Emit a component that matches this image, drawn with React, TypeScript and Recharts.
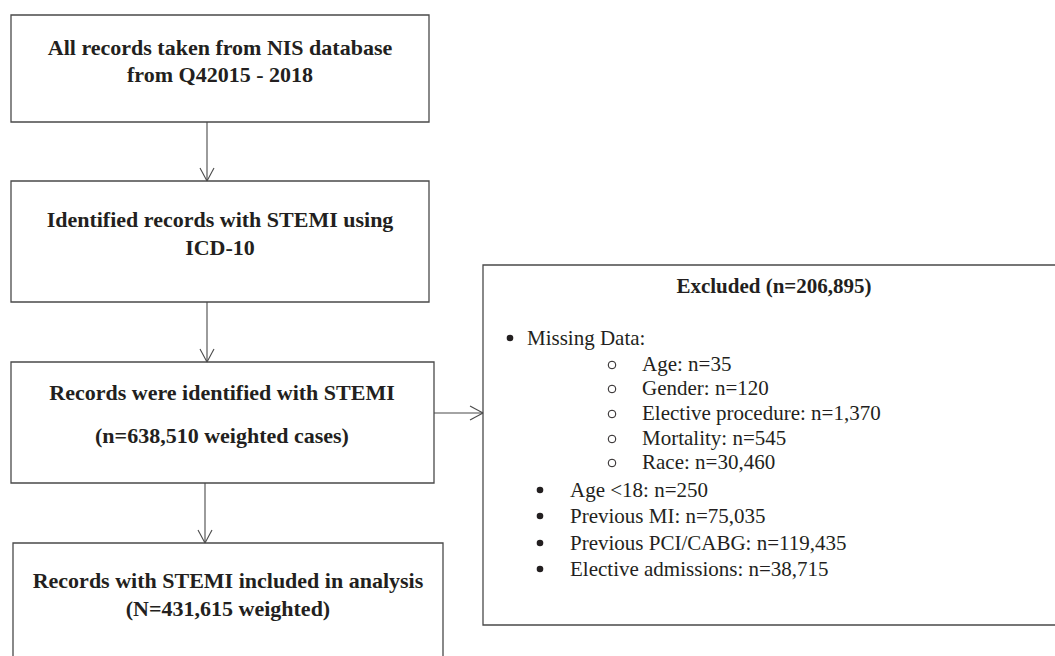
import React from 'react';
import { ScatterChart, XAxis, YAxis, ReferenceArea, ReferenceLine, Scatter } from 'recharts';

// ---------- content ----------
const stepLines: string[][] = [
  ['All records taken from NIS database', 'from Q42015 - 2018'],
  ['Identified records with STEMI using', 'ICD-10'],
  ['Records were identified with STEMI', '(n=638,510 weighted cases)'],
  ['Records with STEMI included in analysis', '(N=431,615 weighted)'],
];
const excludedTitle = 'Excluded (n=206,895)';
const missingHeader = 'Missing Data:';
const missingItems = [
  'Age: n=35',
  'Gender: n=120',
  'Elective procedure: n=1,370',
  'Mortality: n=545',
  'Race: n=30,460',
];
const otherExclusions = [
  'Age <18: n=250',
  'Previous MI: n=75,035',
  'Previous PCI/CABG: n=119,435',
  'Elective admissions: n=38,715',
];

// ---------- layout (diagram coordinates) ----------
const W = 1055;
const H = 656;
const stepBoxes = [
  { x1: 11, x2: 429, y1: 15, y2: 122 },
  { x1: 11, x2: 429, y1: 181, y2: 302 },
  { x1: 11, x2: 434, y1: 362, y2: 483 },
  { x1: 13, x2: 443, y1: 543, y2: 700 },
];
const stepTextCx = [220, 220, 222, 228];
const stepBaselines = [
  [55, 82],
  [227, 255],
  [400, 443],
  [588, 616],
];
const excludedBox = { x1: 483, x2: 1070, y1: 265, y2: 625 };
const titlePos = { x: 774, y: 293 };
const headerPos = { bullet: 510, text: 527, y: 345 };
const subPos = { bullet: 612, text: 642, ys: [371, 395, 420, 445, 469] };
const otherPos = { bullet: 540, text: 570, ys: [497, 523, 550, 576] };
const arrows = [
  { from: { x: 207, y: 122 }, to: { x: 207, y: 181 } },
  { from: { x: 207, y: 302 }, to: { x: 207, y: 362 } },
  { from: { x: 205, y: 483 }, to: { x: 205, y: 543 } },
  { from: { x: 434, y: 413 }, to: { x: 483, y: 413 } },
];

const FONT = "'Liberation Serif', Tinos, 'Times New Roman', 'Nimbus Roman', 'Nimbus Roman No9 L', 'DejaVu Serif', serif";
const INK = '#231f20';
const LINE = '#4a4a4a';

type Pt = { x: number; y: number; text: string; bold?: boolean; anchor?: string; size?: number; bullet?: 'dot' | 'ring'; bx?: number };

const textPoints: Pt[] = [];
stepLines.forEach((lines, i) => {
  lines.forEach((t, j) => {
    textPoints.push({ x: stepTextCx[i], y: stepBaselines[i][j], text: t, bold: true, anchor: 'middle', size: 22 });
  });
});
textPoints.push({ x: titlePos.x, y: titlePos.y, text: excludedTitle, bold: true, anchor: 'middle', size: 21 });
textPoints.push({ x: headerPos.text, y: headerPos.y, text: missingHeader, anchor: 'start', size: 21, bullet: 'dot', bx: headerPos.bullet - headerPos.text });
missingItems.forEach((t, i) => {
  textPoints.push({ x: subPos.text, y: subPos.ys[i], text: t, anchor: 'start', size: 21, bullet: 'ring', bx: subPos.bullet - subPos.text });
});
otherExclusions.forEach((t, i) => {
  textPoints.push({ x: otherPos.text, y: otherPos.ys[i], text: t, anchor: 'start', size: 21, bullet: 'dot', bx: otherPos.bullet - otherPos.text });
});

const TextShape = (props: any) => {
  const p: Pt = props.payload || props;
  const { cx, cy } = props;
  if (cx == null || cy == null) return null;
  return (
    <g>
      {p.bullet === 'dot' && <circle cx={cx + (p.bx || 0)} cy={cy - 7} r={3.3} fill={INK} />}
      {p.bullet === 'ring' && (
        <circle cx={cx + (p.bx || 0)} cy={cy - 6} r={3.8} fill="none" stroke={INK} strokeWidth={1} />
      )}
      <text
        x={cx}
        y={cy}
        textAnchor={p.anchor as any}
        style={{ fontFamily: FONT, fontWeight: p.bold ? 700 : 400, fontSize: p.size }}
        fill={INK}
      >
        {p.text}
      </text>
    </g>
  );
};

function arrowHead(a: { from: { x: number; y: number }; to: { x: number; y: number } }) {
  const dx = a.to.x - a.from.x;
  const dy = a.to.y - a.from.y;
  const len = Math.hypot(dx, dy);
  const ux = dx / len;
  const uy = dy / len;
  const back = 13;
  const half = 7;
  const bxp = a.to.x - ux * back;
  const byp = a.to.y - uy * back;
  return [
    [{ x: bxp - uy * half, y: byp + ux * half }, { x: a.to.x, y: a.to.y }],
    [{ x: bxp + uy * half, y: byp - ux * half }, { x: a.to.x, y: a.to.y }],
  ];
}

export default function App() {
  return (
    <div style={{ position: 'absolute', left: 0, top: 0, width: W, height: H, background: '#fff', fontFamily: FONT }}>
      <ScatterChart width={W} height={H} margin={{ top: 0, right: 0, bottom: 0, left: 0 }}>
        <XAxis type="number" dataKey="x" domain={[0, W]} hide allowDataOverflow />
        <YAxis type="number" dataKey="y" domain={[0, H]} reversed hide allowDataOverflow />
        {stepBoxes.map((b, i) => (
          <ReferenceArea
            key={'b' + i}
            x1={b.x1}
            x2={b.x2}
            y1={b.y1}
            y2={b.y2}
            fill="none"
            fillOpacity={0}
            stroke={LINE}
            strokeWidth={1.3}
            ifOverflow="visible"
          />
        ))}
        <ReferenceArea
          x1={excludedBox.x1}
          x2={excludedBox.x2}
          y1={excludedBox.y1}
          y2={excludedBox.y2}
          fill="none"
          fillOpacity={0}
          stroke={LINE}
          strokeWidth={1.3}
          ifOverflow="visible"
        />
        {arrows.map((a, i) => (
          <ReferenceLine
            key={'a' + i}
            segment={[a.from, a.to]}
            stroke={LINE}
            strokeWidth={1.1}
            ifOverflow="visible"
          />
        ))}
        {arrows.flatMap((a, i) =>
          arrowHead(a).map((seg, j) => (
            <ReferenceLine
              key={'h' + i + '-' + j}
              segment={seg}
              stroke={LINE}
              strokeWidth={1.1}
              ifOverflow="visible"
            />
          ))
        )}
        <Scatter data={textPoints} shape={<TextShape />} isAnimationActive={false} />
      </ScatterChart>
    </div>
  );
}
